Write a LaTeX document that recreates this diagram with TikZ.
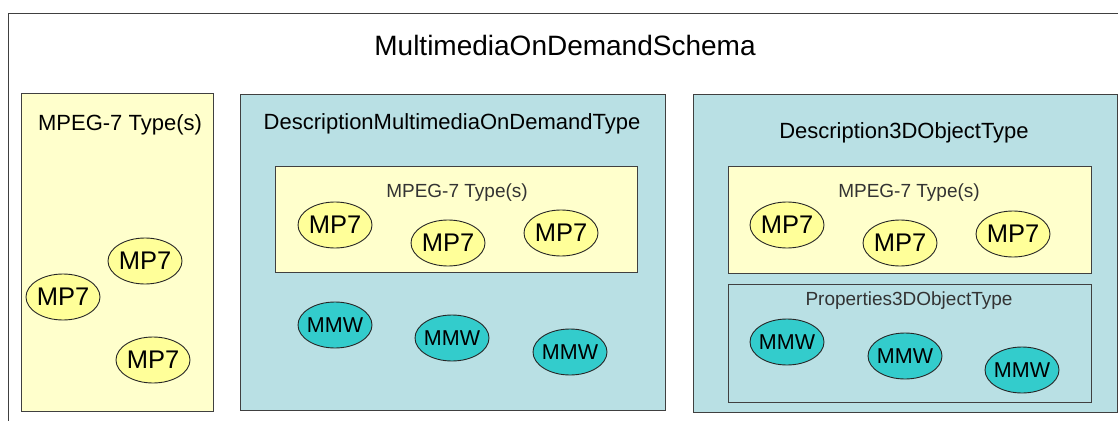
\documentclass[tikz,border=0pt]{standalone}
\usepackage{fontspec}
\setmainfont{Liberation Sans}
\usetikzlibrary{shapes.geometric}
\definecolor{paleyellow}{RGB}{255,255,204}
\definecolor{paleteal}{RGB}{185,224,228}
\definecolor{ellyellow}{RGB}{255,255,153}
\definecolor{ellteal}{RGB}{51,204,204}
\definecolor{boxline}{RGB}{64,64,64}
\definecolor{labelgray}{RGB}{51,51,51}
\tikzset{
  ybox/.style={draw=boxline, line width=0.9pt, fill=paleyellow, rectangle, inner sep=0pt},
  tbox/.style={draw=boxline, line width=0.9pt, fill=paleteal, rectangle, inner sep=0pt},
  ell/.style={ellipse, draw=black!85, line width=0.9pt, minimum width=74pt, minimum height=46pt, inner xsep=-8pt, inner ysep=0pt},
  mpseven/.style={ell, fill=ellyellow, font=\fontsize{25.5}{27}\selectfont},
  mmw/.style={ell, fill=ellteal, font=\fontsize{21.5}{23}\selectfont},
  bigtitle/.style={font=\fontsize{28}{30}\selectfont, inner sep=0pt},
  title/.style={font=\fontsize{22}{24}\selectfont, inner sep=0pt},
  sublabel/.style={font=\fontsize{19}{21}\selectfont, text=labelgray, inner sep=0pt}
}
\begin{document}
\begin{tikzpicture}[x=1pt, y=-1pt]
\useasboundingbox (0,0) rectangle (1118,420);
\clip (0,0) rectangle (1118,420);
% outer frame
\fill[white] (0,0) rectangle (1118,420);
\node[draw=boxline, line width=0.9pt, rectangle, inner sep=0pt, minimum width=1130pt, minimum height=430pt, anchor=north west] (outer) at (8,13) {};
\node[bigtitle] (schema) at (565,45) {MultimediaOnDemandSchema};
% left box
\node[ybox, minimum width=192pt, minimum height=318pt] (lbox) at (117,252) {};
\node[title] (ltitle) at (120,125) {MPEG-7 Type(s)};
\node[mpseven] (l1) at (145,261) {MP7};
\node[mpseven] (l2) at (63,297) {MP7};
\node[mpseven] (l3) at (153,360) {MP7};
% middle box
\node[tbox, minimum width=425pt, minimum height=316pt] (mbox) at (452.5,252) {};
\node[title] (mtitle) at (452,124) {DescriptionMultimediaOnDemandType};
\node[ybox, minimum width=362pt, minimum height=106pt] (myel) at (456,219) {};
\node[sublabel] (mylab) at (457,193) {MPEG-7 Type(s)};
\node[mpseven] (m1) at (335,225) {MP7};
\node[mpseven] (m2) at (448,243) {MP7};
\node[mpseven] (m3) at (561,233) {MP7};
\node[mmw] (w1) at (335,325) {MMW};
\node[mmw] (w2) at (452,338) {MMW};
\node[mmw] (w3) at (570,352) {MMW};
% right box
\node[tbox, minimum width=424pt, minimum height=318pt] (rbox) at (905,253) {};
\node[title] (rtitle) at (904,133) {Description3DObjectType};
\node[ybox, minimum width=363pt, minimum height=107pt] (ryel) at (909.5,219.5) {};
\node[sublabel] (rylab) at (909,193) {MPEG-7 Type(s)};
\node[mpseven] (r1) at (787,225) {MP7};
\node[mpseven] (r2) at (900,243) {MP7};
\node[mpseven] (r3) at (1013,234) {MP7};
\node[tbox, minimum width=363pt, minimum height=118pt] (rprop) at (909.5,343) {};
\node[sublabel] (rplab) at (909,301) {Properties3DObjectType};
\node[mmw] (p1) at (787,342) {MMW};
\node[mmw] (p2) at (905,356) {MMW};
\node[mmw] (p3) at (1022,370) {MMW};
\end{tikzpicture}
\end{document}
